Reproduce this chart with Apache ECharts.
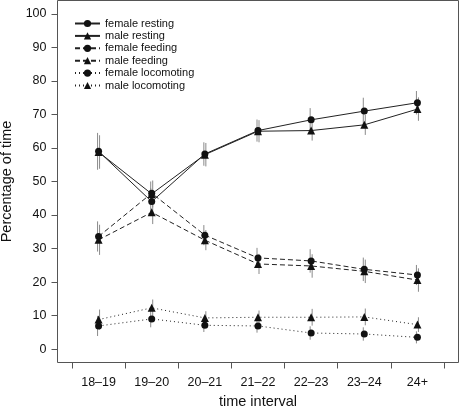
<!DOCTYPE html>
<html>
<head>
<meta charset="utf-8">
<script src="https://cdn.jsdelivr.net/npm/echarts@6/dist/echarts.min.js"></script>
<style>html,body{margin:0;padding:0;background:#fff}#c{width:460px;height:412px}</style>
</head>
<body>
<div id="c"></div>
<script>
var categories = ['18\u201319', '19\u201320', '20\u201321', '21\u201322', '22\u201323', '23\u201324', '24+'];
var yTicks = [0, 10, 20, 30, 40, 50, 60, 70, 80, 90, 100];

var femaleResting    = [59.0, 44.0, 58.2, 65.2, 68.4, 71.0, 73.5];
var maleResting      = [58.8, 46.3, 58.0, 65.0, 65.2, 66.9, 71.6];
var femaleFeeding    = [33.6, 46.5, 34.0, 27.2, 26.3, 23.8, 22.1];
var maleFeeding      = [32.6, 40.8, 32.5, 25.4, 24.8, 23.2, 20.6];
var femaleLocomoting = [6.9, 9.0, 7.1, 6.9, 4.8, 4.5, 3.5];
var maleLocomoting   = [8.8, 12.3, 9.3, 9.5, 9.5, 9.6, 7.3];

var femaleRestingErr    = [5.5, 4.0, 3.5, 3.3, 3.5, 4.0, 3.5];
var maleRestingErr      = [5.0, 4.0, 3.5, 3.3, 3.0, 3.0, 3.5];
var femaleFeedingErr    = [4.5, 3.5, 3.0, 3.0, 3.5, 3.5, 3.0];
var maleFeedingErr      = [4.5, 3.5, 3.0, 3.0, 3.5, 3.5, 3.5];
var femaleLocomotingErr = [3.0, 2.5, 2.0, 2.0, 2.0, 2.0, 1.8];
var maleLocomotingErr   = [3.0, 2.5, 2.0, 2.0, 2.5, 2.5, 2.2];

var names = ['female resting', 'male resting', 'female feeding', 'male feeding', 'female locomoting', 'male locomoting'];
var values = [femaleResting, maleResting, femaleFeeding, maleFeeding, femaleLocomoting, maleLocomoting];
var errs = [femaleRestingErr, maleRestingErr, femaleFeedingErr, maleFeedingErr, femaleLocomotingErr, maleLocomotingErr];
var dashes = ['solid', 'solid', [5, 3], [5, 3], [1, 3], [1, 3]];
var syms = ['circle', 'triangle', 'circle', 'triangle', 'circle', 'triangle'];

// category positions on a numeric x scale: category i sits at i+1, boundaries at i+0.5
var catPos = categories.map(function (c, i) { return i + 1; });
var catBounds = [0.5].concat(catPos.map(function (p) { return p + 0.5; }));

var FONT = 'Liberation Sans, Arial, Helvetica, sans-serif';
var series = [];
values.forEach(function (vals, s) {
  var dx = (s % 2 === 0) ? -1 : 1;
  series.push({
    type: 'custom',
    silent: true,
    z: 1,
    renderItem: function (params, api) {
      var x = api.value(0), v = api.value(1), e = api.value(2);
      var p1 = api.coord([x, v - e]);
      var p2 = api.coord([x, v + e]);
      return {
        type: 'line',
        shape: { x1: p1[0] + dx, y1: p1[1], x2: p2[0] + dx, y2: p2[1] },
        style: { stroke: '#8a8a8a', lineWidth: 1 }
      };
    },
    data: vals.map(function (v, i) { return [catPos[i], v, errs[s][i]]; })
  });
});
values.forEach(function (vals, s) {
  series.push({
    name: names[s],
    type: 'line',
    z: 3,
    data: vals.map(function (v, i) { return [catPos[i], v]; }),
    symbol: syms[s],
    symbolSize: syms[s] === 'circle' ? 7 : 8,
    itemStyle: { color: '#111' },
    lineStyle: { color: '#222', width: 1, type: dashes[s] },
    emphasis: { disabled: true },
    animation: false
  });
});

var chart = echarts.init(document.getElementById('c'), null, { renderer: 'canvas' });
chart.setOption({
  animation: false,
  backgroundColor: '#fff',
  textStyle: { fontFamily: FONT },
  grid: { left: 57.5, right: 1.5, top: 0.5, bottom: 49.5, containLabel: false, outerBoundsMode: 'none' },
  legend: {
    data: names,
    orient: 'vertical',
    left: 69,
    top: 12.5,
    itemWidth: 25,
    itemHeight: 9,
    itemGap: 0.4,
    textStyle: { fontSize: 11, color: '#111', fontFamily: FONT, lineHeight: 12 },
    selectedMode: false
  },
  xAxis: {
    type: 'value',
    min: 0.227,
    max: 7.773,
    axisLine: { show: false, onZero: false },
    axisTick: { show: true, length: 6, customValues: catBounds, lineStyle: { color: '#555' } },
    axisLabel: {
      margin: 14, fontSize: 12.5, color: '#111', fontFamily: FONT,
      customValues: catPos,
      formatter: function (v) { return categories[Math.round(v) - 1]; }
    },
    splitLine: { show: false },
    name: 'time interval',
    nameLocation: 'middle',
    nameGap: 28,
    nameTextStyle: { fontSize: 14.5, color: '#111', fontFamily: FONT }
  },
  yAxis: {
    type: 'value',
    min: -4,
    max: 104,
    axisLine: { show: false, onZero: false },
    axisTick: { show: true, length: 6, customValues: yTicks, lineStyle: { color: '#555' } },
    axisLabel: { margin: 11, fontSize: 12.5, color: '#111', fontFamily: FONT, customValues: yTicks },
    splitLine: { show: false },
    name: 'Percentage of time',
    nameLocation: 'middle',
    nameGap: 37,
    nameTextStyle: { fontSize: 14.5, color: '#111', fontFamily: FONT }
  },
  graphic: [{
    type: 'rect',
    silent: true,
    z: 10,
    shape: { x: 57.5, y: 0.5, width: 401, height: 362 },
    style: { fill: 'none', stroke: '#555', lineWidth: 1 }
  }],
  series: series
});
</script>
</body>
</html>
